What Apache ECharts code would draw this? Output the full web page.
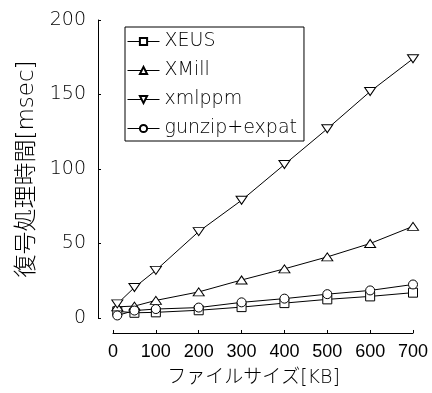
<!DOCTYPE html>
<html><head><meta charset="utf-8">
<script src="https://cdn.jsdelivr.net/npm/echarts@6/dist/echarts.min.js"></script>
<style>html,body{margin:0;padding:0;background:#fff}#c{width:432px;height:393px}</style>
</head><body><div id="c"></div>
<script>
const sizes = [10, 50, 100, 200, 300, 400, 500, 600, 700];
const xeus = [4.5, 3.5, 3.8, 5.2, 7.3, 10, 12.5, 14.5, 17];
const xmill = [7.5, 8, 11.8, 17.5, 25.5, 33, 41, 50, 61.5];
const xmlppm = [9.5, 20.5, 32, 58, 79, 103, 127, 152, 174];
const gunzip = [1.7, 5, 6, 7, 10.5, 13, 16, 18.5, 22.5];
const yTicks = [0, 50, 100, 150, 200];
const xTicks = [0, 100, 200, 300, 400, 500, 600, 700];

const pair = (arr) => sizes.map((x, i) => [x, arr[i]]);
const F = "'DejaVu Sans', 'Noto Sans CJK JP', sans-serif";
function mk(name, data, symbol, size) {
  return {
    name, type: 'line', data: pair(data), symbol, symbolSize: size,
    showAllSymbol: true,
    lineStyle: { color: '#000', width: 1 },
    itemStyle: { color: '#fff', borderColor: '#000', borderWidth: 1 },
    emphasis: { disabled: true }, animation: false, z: 2
  };
}
const chart = echarts.init(document.getElementById('c'));
chart.setOption({
  animation: false,
  grid: { left: 113, right: 19, top: 20, bottom: 75 },
  legend: {
    orient: 'vertical', left: 125, top: 27,
    padding: [5, 7, 3, 2], itemGap: 10, itemWidth: 32, itemHeight: 9,
    borderColor: '#000', borderWidth: 1,
    lineStyle: { width: 1, color: '#000' },
    textStyle: { fontFamily: F, fontSize: 19, fontWeight: 200, color: '#000' },
    data: ['XEUS', 'XMill', 'xmlppm', 'gunzip+expat']
  },
  xAxis: {
    type: 'value', min: 0, max: 700, interval: 100, offset: 15,
    axisLine: { onZero: false, lineStyle: { color: '#000', width: 1 } },
    axisTick: { inside: true, length: 3, lineStyle: { color: '#000' } },
    splitLine: { show: false },
    axisLabel: { fontFamily: "'Liberation Sans', sans-serif", fontSize: 18, color: '#000', margin: 10 },
    name: 'ファイルサイズ[KB]', nameLocation: 'middle', nameGap: 36,
    nameTextStyle: { fontFamily: F, fontSize: 19, fontWeight: 200, color: '#000', padding: [0, 19, 0, 0] }
  },
  yAxis: {
    type: 'value', min: 0, max: 200, interval: 50, offset: 15,
    axisLine: { show: true, onZero: false, lineStyle: { color: '#000', width: 1 } },
    axisTick: { show: true, inside: true, length: 3, lineStyle: { color: '#000' } },
    splitLine: { show: false },
    axisLabel: { fontFamily: F, fontSize: 19, fontWeight: 200, color: '#000', margin: 12 },
    name: '復号処理時間[msec]', nameLocation: 'middle', nameGap: 56,
    nameTextStyle: { fontFamily: F, fontSize: 23, fontWeight: 200, color: '#000' }
  },
  series: [
    mk('XEUS', xeus, 'rect', 9),
    mk('XMill', xmill, 'triangle', [11, 8]),
    mk('xmlppm', xmlppm, 'path://M0,0 L10,0 L5,8 Z', [11, 8]),
    mk('gunzip+expat', gunzip, 'circle', 9)
  ]
});
</script></body></html>
